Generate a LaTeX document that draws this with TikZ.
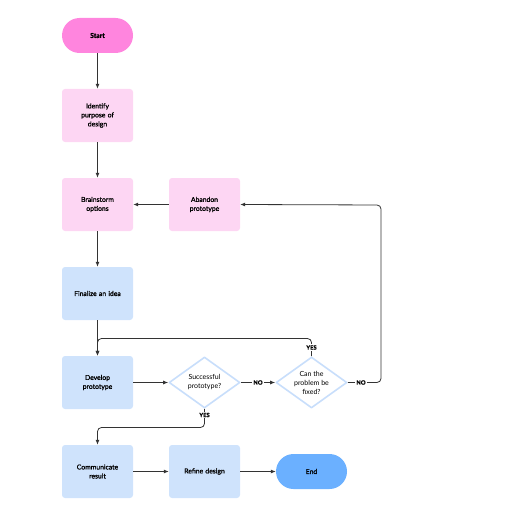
\documentclass[tikz,border=0pt]{standalone}
\usepackage{fontspec}
\setmainfont{Lato}[RawFeature={embolden=1.2}]
\newfontfamily\regfont{Lato}
\usetikzlibrary{shapes.geometric,arrows.meta}
\definecolor{startc}{HTML}{FF85DE}
\definecolor{pinkc}{HTML}{FDD6F3}
\definecolor{bluec}{HTML}{CFE3FC}
\definecolor{endc}{HTML}{6BB0FF}
\definecolor{diac}{HTML}{C8DEFB}
\definecolor{linec}{HTML}{333333}
\begin{document}
\begin{tikzpicture}[x=1pt,y=-1pt,
  font=\fontsize{6.8}{9}\selectfont,
  box/.style={rectangle,rounded corners=3pt,minimum width=71pt,minimum height=53pt,align=center,text width=62pt,inner sep=0pt},
  pinkbox/.style={box,fill=pinkc},
  bluebox/.style={box,fill=bluec},
  term/.style={rectangle,rounded corners=17.5pt,minimum width=71pt,minimum height=35pt,inner sep=0pt,align=center},
  dia/.style={diamond,draw=diac,line width=1.6pt,line join=round,fill=white,minimum width=71pt,minimum height=51pt,inner sep=0pt},
  dtext/.style={align=center,inner sep=0pt,font=\fontsize{7}{9}\regfont},
  conn/.style={draw=linec,line width=0.8pt,-{Latex[length=5pt,width=4pt]}},
  lab/.style={font=\fontsize{5.8}{7}\selectfont\bfseries,fill=white,inner sep=1pt}]
\useasboundingbox (0,0) rectangle (516,516);
\node[term,fill=startc] (start) at (97.5,35.5) {\bfseries Start};
\node[pinkbox] (ident) at (97.5,115.5) {Identify\\purpose of\\design};
\node[pinkbox] (brain) at (97.5,204.5) {Brainstorm\\options};
\node[pinkbox] (aband) at (204.5,204.5) {Abandon\\prototype};
\node[bluebox] (final) at (97.5,293.5) {Finalize an idea};
\node[bluebox] (devel) at (97.5,382.5) {Develop\\prototype};
\node[dia] (succ) at (204.5,382.5) {};
\node[dtext] (succt) at (succ.center) {Successful\\prototype?};
\node[dia] (fix) at (311.5,382.5) {};
\node[dtext] (fixt) at (fix.center) {Can the\\problem be\\fixed?};
\node[bluebox] (comm) at (97.5,471.5) {Communicate\\result};
\node[bluebox] (refine) at (204.5,471.5) {Refine design};
\node[term,fill=endc] (end) at (311.5,471.5) {End};
\draw[conn] (start) -- (ident);
\draw[conn] (ident) -- (brain);
\draw[conn] (brain) -- (final);
\draw[conn] (final) -- (devel);
\draw[conn] (aband) -- (brain);
\draw[conn] (devel) -- (succ);
\draw[conn] (succ) -- node[lab]{NO} (fix);
\draw[conn,rounded corners=4pt] (fix.north) -- (311.5,338.5) -- (97.5,338.5) -- (devel.north);
\node[lab] (yes1) at (311.5,347.5) {YES};
\draw[conn,rounded corners=4pt] (fix.east) -- (381,382.5) -- (381,205) -- (aband.east);
\node[lab] (no2) at (361,382.5) {NO};
\draw[conn,rounded corners=4pt] (succ.south) -- (204.5,427.5) -- (97.5,427.5) -- (comm.north);
\node[lab] (yes2) at (204.5,415) {YES};
\draw[conn] (comm) -- (refine);
\draw[conn] (refine) -- (end);
\end{tikzpicture}
\end{document}
